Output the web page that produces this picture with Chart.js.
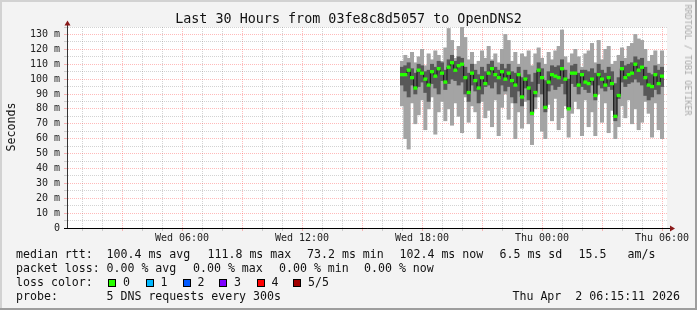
<!DOCTYPE html>
<html><head><meta charset="utf-8">
<script src="https://cdn.jsdelivr.net/npm/chart.js@4"></script>
<style>
body{margin:0;background:#fff}
#wrap{position:relative;width:697px;height:310px;background:#f3f3f3;overflow:hidden;font-family:"DejaVu Sans Mono",monospace;color:#111}
#c{position:absolute;left:0;top:0}
.t{position:absolute;white-space:pre;font-size:11.6px;line-height:14px}
.box{position:absolute;width:6px;height:6px;border:1px solid #000}
.edge{position:absolute}
</style></head><body>
<div id="wrap">
<canvas id="c" width="697" height="310"></canvas>
<div class="edge" style="left:0;top:0;width:697px;height:2px;background:#d2d2d2"></div>
<div class="edge" style="left:0;top:0;width:2px;height:310px;background:#d2d2d2"></div>
<div class="edge" style="left:695px;top:0;width:2px;height:310px;background:#9d9d9d"></div>
<div class="edge" style="left:0;top:308px;width:697px;height:2px;background:#9d9d9d"></div>
<div id="title" style="position:absolute;left:0;top:11px;width:697px;text-align:center;font-size:13.4px;line-height:16px;white-space:pre">Last 30 Hours from 03fe8c8d5057 to OpenDNS2</div>
<div style="position:absolute;left:11px;top:127px;transform:translate(-50%,-50%) rotate(-90deg);font-size:11.6px;line-height:14px;white-space:pre">Seconds</div>
<div style="position:absolute;left:688px;top:60px;transform:translate(-50%,-50%) rotate(90deg);font-size:8.4px;line-height:10px;white-space:pre;color:#a8a8a8">RRDTOOL / TOBI OETIKER</div>
<div id="legend"></div>
</div>
<script>
// ---- data ----
const sampleStartMinute = 1005;   // minutes after Wed 00:15 (first sample, Wed 17:00)
const sampleStepMinutes = 10;
const pingMin = [82,60,53,84,70,76,86,66,80,88,63,78,85,72,80,69,84,75,64,88,71,82,78,60,85,74,
  79,68,86,62,81,90,73,84,60,78,67,85,70,56,80,88,65,60,83,72,87,66,74,82,61,77,85,
  80,62,86,68,78,62,90,71,84,64,79,60,68,82,74,86,70,80,66,71,85,77,61,84,66,60];
const pingLow = [96,92,88,96,90,95,98,91,85,97,94,90,99,93,97,100,99,96,98,90,85,96,92,84,90,95,
  96,94,98,90,96,92,95,88,84,92,82,94,86,76,88,97,90,78,92,96,93,95,97,90,80,97,95,
  90,95,93,91,96,86,96,94,92,95,93,72,87,98,95,97,98,100,98,96,89,86,88,93,90,95];
const pingMedian = [103,103,106,101,94,106,104,100,96,105,102,107,104,98,108,111,106,109,110,101,91,104,99,94,101,97,
  104,107,103,101,105,100,104,99,96,103,88,100,94,77,91,106,101,81,98,103,102,101,107,100,80,104,104,
  96,103,98,97,100,89,103,100,96,101,97,75,89,107,101,103,104,110,106,108,101,96,95,103,97,102];
const pingHigh = [108,109,111,107,104,110,109,105,106,110,108,112,111,106,113,116,112,115,114,108,104,110,106,103,108,105,
  110,112,108,106,110,107,110,105,104,108,101,106,103,98,104,111,107,99,105,109,108,109,113,106,100,109,110,
  104,106,106,105,107,104,110,106,104,108,105,97,101,112,109,110,111,115,113,114,108,104,103,109,106,108];
const pingMax = [112,116,114,118,111,115,120,109,117,113,119,116,112,121,134,126,114,122,136,128,113,118,110,112,119,114,
  122,113,117,111,120,130,126,112,118,110,117,115,119,109,117,121,114,110,118,113,119,122,133,115,111,117,120,
  115,108,117,119,124,111,126,113,120,122,110,112,116,121,114,122,124,130,127,126,120,112,116,119,110,119];
const xTickMinutes = [345, 705, 1065, 1425, 1785];
const xTickLabels = ['Wed 06:00','Wed 12:00','Wed 18:00','Thu 00:00','Thu 06:00'];
const axisSpanMinutes = 1800;
const yMaxMs = 135;
const lossLabels = ['0','1','2','3','4','5/5'];
const lossColors = ['#26ff00','#00b8ff','#0059ff','#7e00ff','#ff0000','#a10000'];
const statsRtt = ['100.4 ms avg','111.8 ms max','73.2 ms min','102.4 ms now','6.5 ms sd','15.5','am/s'];
const statsLoss = ['0.00 % avg','0.00 % max','0.00 % min','0.00 % now'];

// ---- legend (HTML text) ----
const lg = document.getElementById('legend');
function txt(x, y, s){ const d=document.createElement('div'); d.className='t'; d.style.left=x+'px'; d.style.top=y+'px'; d.textContent=s; lg.appendChild(d); return d; }
const rttX = [106.5,207.5,307,399.5,499.5,578.5,627.5];
txt(16,247,'median rtt:'); statsRtt.forEach((s,i)=>txt(rttX[i],247,s));
const lossX = [106.5,193,279,364];
txt(16,261,'packet loss:'); statsLoss.forEach((s,i)=>txt(lossX[i],261,s));
txt(16,275,'loss color:');
const boxX = [108,145.5,182.5,219,256.5,293];
lossLabels.forEach((s,i)=>{ const b=document.createElement('div'); b.className='box'; b.style.left=boxX[i]+'px'; b.style.top='278.5px'; b.style.background=lossColors[i]; lg.appendChild(b); txt(boxX[i]+15,275,s); });
txt(16,288.5,'probe:'); txt(106.5,288.5,'5 DNS requests every 300s');
const ts = txt(0,288.5,'Thu Apr  2 06:15:11 2026'); ts.style.left=''; ts.style.right='17px';

// ---- chart ----
const times = pingMedian.map((_,i)=>sampleStartMinute + i*sampleStepMinutes);
const hourTicks = []; for (let m=45; m<=axisSpanMinutes; m+=60) hourTicks.push(m);
const isMajor = v => (((v+15)/60) % 3) === 0;
const RED = 'rgba(255,40,40,0.32)', GRAY = 'rgba(120,120,120,0.33)';
const gridCol = v => isMajor(v) ? RED : GRAY;
const yGridCol = v => (v % 10 === 0) ? RED : GRAY;

const barCommon = {type:'bar', grouped:false, borderWidth:0, barPercentage:1, categoryPercentage:1};
const chart = new Chart(document.getElementById('c'), {
  type:'bar',
  data:{datasets:[
    Object.assign({}, barCommon, {label:'median', order:0, backgroundColor:'#26ff00',
      data: times.map((t,i)=>({x:t, y:[pingMedian[i]-0.9, pingMedian[i]+0.9]}))}),
    {type:'line', label:'medianline', order:1, stepped:'middle', borderColor:'#111', borderWidth:1, pointRadius:0, fill:false,
      data: times.map((t,i)=>({x:t, y:pingMedian[i]}))},
    Object.assign({}, barCommon, {label:'inner', order:2, backgroundColor:'#585858',
      data: times.map((t,i)=>({x:t, y:[pingLow[i], pingHigh[i]]}))}),
    Object.assign({}, barCommon, {label:'outer', order:3, backgroundColor:'#a4a4a4',
      data: times.map((t,i)=>({x:t, y:[pingMin[i], pingMax[i]]}))})
  ]},
  options:{
    responsive:false, animation:false, parsing:true,
    layout:{padding:{top:27,left:0,right:30,bottom:0}},
    plugins:{legend:{display:false}, tooltip:{enabled:false}, title:{display:false}},
    scales:{
      x:{type:'linear', min:0, max:axisSpanMinutes, offset:false,
        afterBuildTicks:s=>{ s.ticks = hourTicks.map(v=>({value:v})); },
        afterFit:s=>{ s.height = 82; },
        grid:{offset:false, color:c=>gridCol(c.tick.value), tickColor:c=>gridCol(c.tick.value), tickLength:3, lineWidth:1},
        border:{color:'#000', width:1, dash:[1,1]},
        ticks:{autoSkip:false, maxRotation:0, minRotation:0, padding:1, color:'#222',
          font:{family:'DejaVu Sans Mono', size:10},
          callback:v=>{ const k = xTickMinutes.indexOf(v); return k>=0 ? xTickLabels[k] : ''; }}
      },
      y:{type:'linear', min:0, max:yMaxMs,
        afterFit:s=>{ s.width = 67; },
        grid:{color:c=>yGridCol(c.tick.value), tickColor:c=>yGridCol(c.tick.value), tickLength:3, lineWidth:1},
        border:{color:'#333', width:1, dash:[1,1]},
        ticks:{stepSize:5, autoSkip:false, padding:4, color:'#222',
          font:{family:'DejaVu Sans Mono', size:10},
          callback:v=> (v % 10 === 0) ? (v === 0 ? '0' : v + ' m') : ''}
      }
    }
  },
  plugins:[{
    id:'frame',
    beforeDraw(ch){ const a=ch.chartArea, c=ch.ctx; c.save(); c.fillStyle='#fff'; c.fillRect(a.left,a.top,a.right-a.left,a.bottom-a.top); c.restore(); },
    afterDraw(ch){
      const a=ch.chartArea, c=ch.ctx; c.save();
      c.strokeStyle='#333'; c.lineWidth=1;
      c.beginPath(); c.moveTo(a.left+0.5, a.bottom); c.lineTo(a.left+0.5, a.top-4); c.stroke();
      c.strokeStyle='#000';
      c.beginPath(); c.moveTo(a.left-3, a.bottom+0.5); c.lineTo(a.right+4, a.bottom+0.5); c.stroke();
      c.fillStyle='#8b1a1a';
      c.beginPath(); c.moveTo(a.left+0.5, a.top-6.5); c.lineTo(a.left-2.5, a.top-1.5); c.lineTo(a.left+3.5, a.top-1.5); c.closePath(); c.fill();
      c.beginPath(); c.moveTo(a.right+8, a.bottom+0.5); c.lineTo(a.right+3, a.bottom-2.5); c.lineTo(a.right+3, a.bottom+3.5); c.closePath(); c.fill();
      c.restore();
    }
  }]
});
</script>
</body></html>
